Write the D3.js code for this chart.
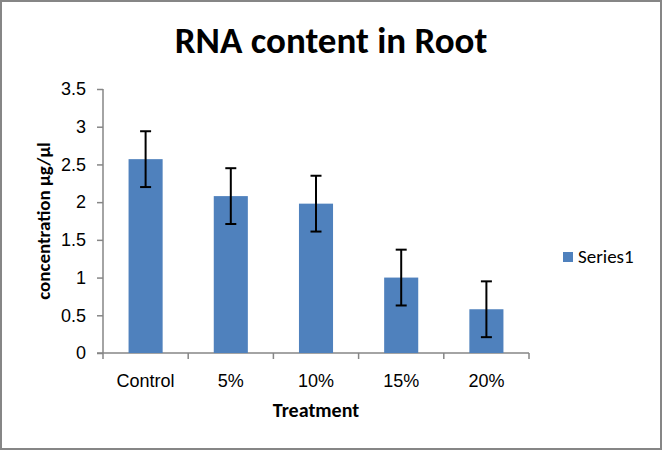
<!DOCTYPE html>
<meta charset="utf-8">
<style>
body { margin: 0; }
svg { font-family: Calibri, Carlito, Lato, sans-serif; }
.axis path, .axis line { stroke: #868686; stroke-width: 1.5; }
.axis text { fill: #000; font-size: 18px; }
.bar { fill: #4f81bd; }
.err { stroke: #000; stroke-width: 2; }
</style>
<svg width="662" height="450"></svg>
<script src="https://d3js.org/d3.v7.min.js"></script>
<script>

var categories = ["Control", "5%", "10%", "15%", "20%"];
var values = [2.57, 2.08, 1.98, 1.0, 0.58];
var errors = [0.37, 0.37, 0.37, 0.37, 0.37];
var yTicks = [0, 0.5, 1, 1.5, 2, 2.5, 3, 3.5];
var seriesName = "Series1";

var svg = d3.select("svg"),
    margin = {top: 89, right: 133, bottom: 97, left: 103},
    width = +svg.attr("width") - margin.left - margin.right,
    height = +svg.attr("height") - margin.top - margin.bottom;

// outer frame
svg.append("rect")
    .attr("x", 1).attr("y", 1)
    .attr("width", 660).attr("height", 448)
    .attr("fill", "#fff")
    .attr("stroke", "#868686")
    .attr("stroke-width", 2);

var x = d3.scaleBand().domain(categories).range([0, width]),
    y = d3.scaleLinear().domain([0, 3.5]).range([height, 0]);

var g = svg.append("g")
    .attr("transform", "translate(" + margin.left + "," + margin.top + ")");

g.append("g")
    .attr("class", "axis axis--y")
    .call(d3.axisLeft(y).tickValues(yTicks).tickFormat(d3.format("")).tickSize(6).tickPadding(11))
    .call(function(s) { s.select(".domain").attr("d", "M0," + height + "V0"); });

var xAxis = g.append("g")
    .attr("class", "axis axis--x")
    .attr("transform", "translate(0," + height + ")")
    .call(d3.axisBottom(x).tickSize(0).tickPadding(21));
xAxis.select(".domain").attr("d", "M-6,0H" + width);
xAxis.selectAll(".bound")
    .data(d3.range(categories.length + 1))
  .enter().append("line")
    .attr("class", "bound")
    .attr("x1", function(i) { return i * x.step(); })
    .attr("x2", function(i) { return i * x.step(); })
    .attr("y1", 0).attr("y2", 6);

var bw = x.bandwidth() * 0.4;

g.selectAll(".bar")
    .data(values)
  .enter().append("rect")
    .attr("class", "bar")
    .attr("x", function(d, i) { return x(categories[i]) + (x.bandwidth() - bw) / 2; })
    .attr("y", function(d) { return y(d); })
    .attr("width", bw)
    .attr("height", function(d) { return height - y(d); });

var eb = g.selectAll(".eb")
    .data(values)
  .enter().append("g")
    .attr("class", "eb")
    .attr("transform", function(d, i) { return "translate(" + (x(categories[i]) + x.bandwidth() / 2) + ",0)"; });
eb.append("line").attr("class", "err")
    .attr("y1", function(d, i) { return y(d + errors[i]); })
    .attr("y2", function(d, i) { return y(d - errors[i]); });
eb.append("line").attr("class", "err")
    .attr("x1", -5.5).attr("x2", 5.5)
    .attr("y1", function(d, i) { return y(d + errors[i]); })
    .attr("y2", function(d, i) { return y(d + errors[i]); });
eb.append("line").attr("class", "err")
    .attr("x1", -5.5).attr("x2", 5.5)
    .attr("y1", function(d, i) { return y(d - errors[i]); })
    .attr("y2", function(d, i) { return y(d - errors[i]); });

// title
svg.append("text")
    .attr("x", 331)
    .attr("y", 53)
    .attr("text-anchor", "middle")
    .attr("font-weight", "bold")
    .style("font-size", "37px")
    .text("RNA content in Root");

// axis labels
svg.append("text")
    .attr("x", margin.left + width / 2)
    .attr("y", 417)
    .attr("text-anchor", "middle")
    .attr("font-weight", "bold")
    .style("font-size", "20px")
    .text("Treatment");

svg.append("text")
    .attr("transform", "translate(50," + (margin.top + height / 2) + ") rotate(-90)")
    .attr("text-anchor", "middle")
    .attr("font-weight", "bold")
    .style("font-size", "19px")
    .text("concentration µg/µl");

// legend
var lg = svg.append("g").attr("transform", "translate(563,252)");
lg.append("rect").attr("width", 10).attr("height", 10).attr("class", "bar");
lg.append("text").attr("x", 15).attr("y", 11).style("font-size", "19px").text(seriesName);

</script>
